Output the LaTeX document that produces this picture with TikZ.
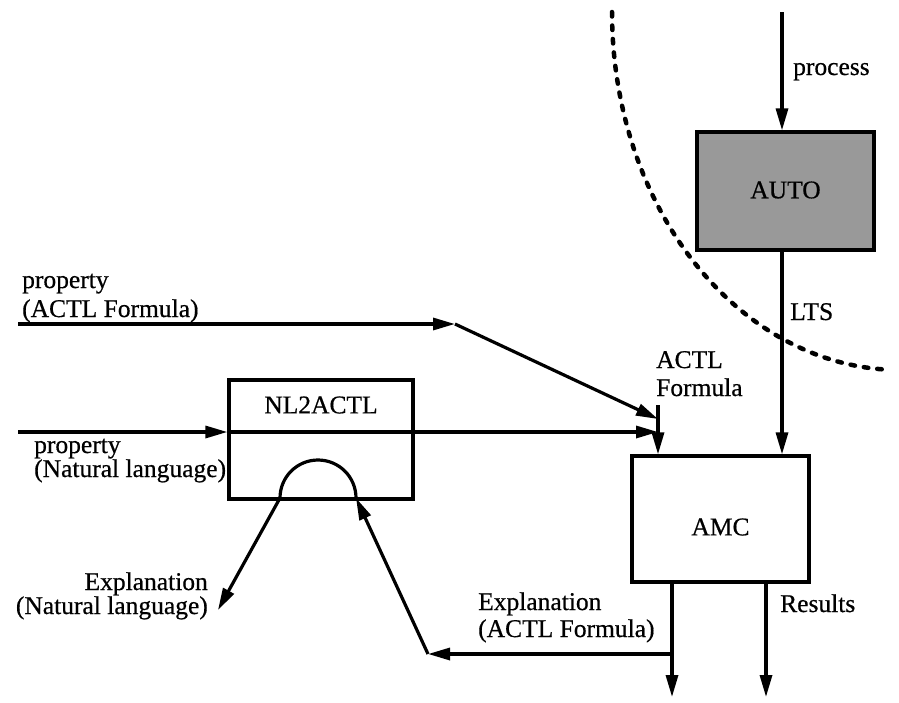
\documentclass[tikz,border=0pt]{standalone}
\usepackage{fontspec}
\setmainfont{Liberation Serif}[FakeBold=0.6]
\usetikzlibrary{arrows.meta}
\begin{document}
\begin{tikzpicture}[x=1pt,y=-1pt,
  flow/.style={line width=3.2pt,-{Triangle[length=22pt,width=12pt]}},
  wire/.style={line width=3.2pt},
  blk/.style={draw,line width=3.2pt,inner sep=0pt},
  lbl/.style={font=\fontsize{25.5}{28}\selectfont,inner sep=0pt},
  border/.style={line width=4.5pt,line cap=round,dash pattern=on 4.5pt off 9pt},
]
\useasboundingbox (0,0) rectangle (899,702);

% blocks
\node[blk,fill=black!40,minimum width=177pt,minimum height=118pt] (auto) at (785.5,191) {};
\node[lbl] (autotxt) at (785.5,190) {AUTO};
\node[blk,minimum width=177pt,minimum height=126pt] (amc) at (720.5,519) {};
\node[lbl] (amctxt) at (720.5,527) {AMC};
\node[blk,minimum width=184pt,minimum height=119pt] (nl) at (321,439.5) {};
\node[lbl] (nltxt) at (321,405) {NL2ACTL};

% boundary of the automatic part
\draw[border] plot[domain=0:88,samples=90,smooth] ({900-288*cos(\x)},{12+358*sin(\x)});

% process -> AUTO -> AMC
\coordinate (pin) at (782,12);
\draw[flow] (pin) -- (pin |- auto.north);
\draw[flow] (pin |- auto.south) -- (pin |- amc.north);
\node[lbl,anchor=base west] (tproc) at (793,75) {process};
\node[lbl,anchor=base west] (tlts) at (790,320) {LTS};

% ACTL formula input of AMC
\coordinate (jt) at (658,405);
\coordinate (jd) at (658,419);
\coordinate (j) at (658,432);
\draw[wire] (jt) -- (j);
\draw[flow] (j) -- (j |- amc.north);
\node[lbl,anchor=base west] (tactl1) at (656,368) {ACTL};
\node[lbl,anchor=base west] (tactl2) at (656,396) {Formula};

% property given as ACTL formula
\coordinate (p1s) at (18,324);
\coordinate (bend) at (455,324);
\draw[flow] (p1s) -- (bend);
\draw[flow] (bend) -- (jd);
\node[lbl,anchor=base west] (tp1a) at (22,288) {property};
\node[lbl,anchor=base west] (tp1b) at (22,317) {(ACTL Formula)};

% property given in natural language
\coordinate (p2s) at (18,432);
\draw[flow] (p2s) -- (nl.west |- p2s);
\draw[flow] (nl.west |- p2s) -- (j);
\node[lbl,anchor=base west] (tp2a) at (34,453) {property};
\node[lbl,anchor=base west] (tp2b) at (34,477) {(Natural language)};

% explanation loop through NL2ACTL
\coordinate (archL) at (280,498);
\coordinate (archR) at (356,498);
\coordinate (explNL) at (218,610);
\coordinate (ret) at (428,654);
\draw[wire] (archL) arc[start angle=180,end angle=360,radius=38];
\draw[flow] (archL) -- (explNL);
\draw[flow] (ret) -- (archR);
\node[lbl,anchor=base east] (te1a) at (208,590) {Explanation};
\node[lbl,anchor=base east] (te1b) at (208,614) {(Natural language)};

% outputs of AMC
\coordinate (o1) at (672,697);
\coordinate (o2) at (766,697);
\draw[flow] (o1 |- amc.south) -- (o1);
\draw[flow] (o2 |- amc.south) -- (o2);
\draw[flow] (o1 |- ret) -- (ret);
\node[lbl,anchor=base west] (te2a) at (478,610) {Explanation};
\node[lbl,anchor=base west] (te2b) at (478,637) {(ACTL Formula)};
\node[lbl,anchor=base west] (tres) at (780,612) {Results};
\end{tikzpicture}
\end{document}
